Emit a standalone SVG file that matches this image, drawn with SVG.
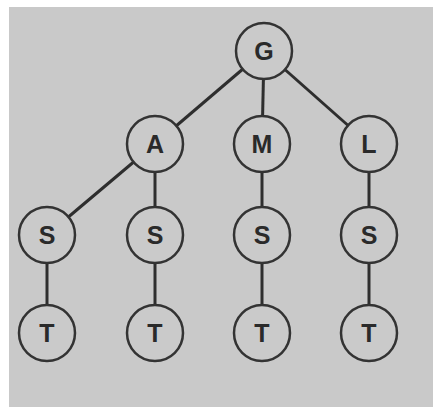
<svg xmlns="http://www.w3.org/2000/svg" width="433" height="407" viewBox="0 0 433 407">
<style>
.bg{fill:#c9c9c9}
.node circle{fill:#cacaca;stroke:#333;stroke-width:2.5}
.node text{font-family:"Liberation Sans",Arial,sans-serif;font-weight:bold;font-size:25px;fill:#2a2a2a;text-anchor:middle;dominant-baseline:central}
.edges line{stroke:#2e2e2e;stroke-width:3}
</style>
<rect width="433" height="407" fill="#ffffff"/>
<rect class="bg" x="9" y="7" width="424" height="400"/>
<g class="edges">
<line x1="264" y1="51" x2="155" y2="144"/>
<line x1="264" y1="51" x2="262" y2="144"/>
<line x1="264" y1="51" x2="369" y2="144"/>
<line x1="155" y1="144" x2="47" y2="235"/>
<line x1="155" y1="144" x2="155" y2="235"/>
<line x1="262" y1="144" x2="262" y2="235"/>
<line x1="369" y1="144" x2="369" y2="235"/>
<line x1="47" y1="235" x2="47" y2="333"/>
<line x1="155" y1="235" x2="155" y2="333"/>
<line x1="262" y1="235" x2="262" y2="333"/>
<line x1="369" y1="235" x2="369" y2="333"/>
</g>
<g id="G" class="node"><circle cx="264" cy="51" r="28"/><text x="264" y="51">G</text></g>
<g id="A" class="node"><circle cx="155" cy="144" r="28"/><text x="155" y="144">A</text></g>
<g id="M" class="node"><circle cx="262" cy="144" r="28"/><text x="262" y="144">M</text></g>
<g id="L" class="node"><circle cx="369" cy="144" r="28"/><text x="369" y="144">L</text></g>
<g id="S1" class="node"><circle cx="47" cy="235" r="28"/><text x="47" y="235">S</text></g>
<g id="S2" class="node"><circle cx="155" cy="235" r="28"/><text x="155" y="235">S</text></g>
<g id="S3" class="node"><circle cx="262" cy="235" r="28"/><text x="262" y="235">S</text></g>
<g id="S4" class="node"><circle cx="369" cy="235" r="28"/><text x="369" y="235">S</text></g>
<g id="T1" class="node"><circle cx="47" cy="333" r="28"/><text x="47" y="333">T</text></g>
<g id="T2" class="node"><circle cx="155" cy="333" r="28"/><text x="155" y="333">T</text></g>
<g id="T3" class="node"><circle cx="262" cy="333" r="28"/><text x="262" y="333">T</text></g>
<g id="T4" class="node"><circle cx="369" cy="333" r="28"/><text x="369" y="333">T</text></g>
</svg>
